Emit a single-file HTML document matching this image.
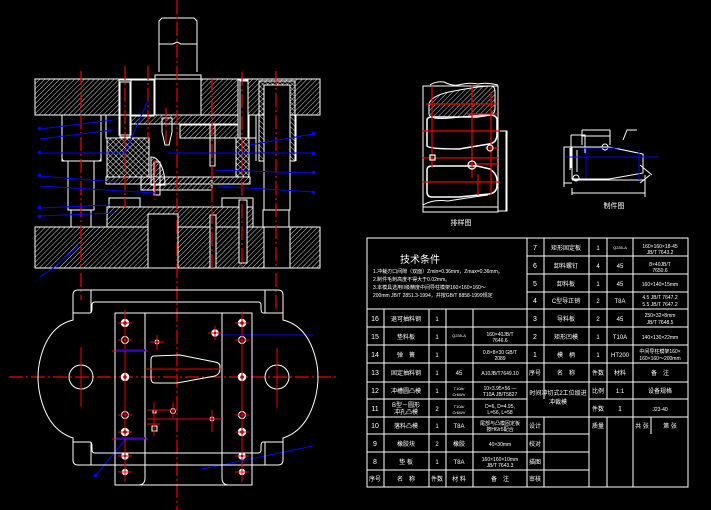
<!DOCTYPE html>
<html><head><meta charset="utf-8"><style>
html,body{margin:0;padding:0;background:#000;}
svg{display:block}
text{font-family:"Liberation Sans","Noto Sans CJK SC",sans-serif;fill:#fff;}
</style></head><body>
<svg width="711" height="510" viewBox="0 0 711 510" xmlns="http://www.w3.org/2000/svg">
<defs>
<pattern id="h" width="3.5" height="3.5" patternUnits="userSpaceOnUse" patternTransform="rotate(45)"><line x1="0" y1="0" x2="0" y2="3.5" stroke="#fff" stroke-width="0.8"/></pattern>
<pattern id="hr" width="3.5" height="3.5" patternUnits="userSpaceOnUse" patternTransform="rotate(-45)"><line x1="0" y1="0" x2="0" y2="3.5" stroke="#fff" stroke-width="0.8"/></pattern>
<pattern id="x" width="4" height="4" patternUnits="userSpaceOnUse" patternTransform="rotate(45)"><path d="M0 0V4M0 0H4" stroke="#fff" stroke-width="0.9"/></pattern>
</defs>
<rect width="711" height="510" fill="#000"/>
<g fill="none" stroke="#fff" stroke-width="1">
<!-- shank -->
<path d="M159 72V21l3-3h32l3 3v51"/>
<path d="M159 44l14 0 4-2 4 2h16"/>
<rect x="155" y="75" width="46" height="28"/>
<rect x="156" y="103" width="44" height="6"/>
<!-- top plate -->
<rect x="35" y="79" width="285" height="36" fill="url(#h)"/>
<rect x="119" y="80" width="12" height="55" fill="#000"/>
<rect x="131" y="80" width="23" height="36" fill="#000"/>
<rect x="155" y="79" width="46" height="36" fill="#000"/>
<rect x="259" y="81" width="36" height="80" fill="url(#hr)"/>
<rect x="264" y="85" width="26" height="125" fill="#000"/>
<rect x="238" y="80" width="10" height="58" fill="#000"/>
<!-- punch plate & upper -->
<rect x="130" y="115" width="108" height="9" fill="url(#h)"/>
<rect x="180" y="125" width="58" height="13" fill="url(#h)"/>
<rect x="106" y="115" width="24" height="23"/>
<rect x="249" y="115" width="7" height="23"/>
<!-- rubber -->
<rect x="107" y="138" width="42" height="39" fill="url(#x)"/>
<rect x="236" y="138" width="13" height="39" fill="url(#x)"/>
<path d="M151 157c8 0 14 12 14 28h-14z" fill="url(#h)"/>
<rect x="106" y="177" width="144" height="7" fill="url(#h)"/>
<rect x="141" y="177" width="71" height="13" fill="url(#h)"/>
<rect x="109" y="198" width="31" height="9"/>
<rect x="222" y="198" width="31" height="9"/>
<rect x="107" y="207" width="146" height="20" fill="url(#h)"/>
<rect x="148" y="214" width="30" height="13" fill="#000"/>
<!-- guide pillars left -->
<path d="M62 115v46h39v-46"/><path d="M62 158q0 3 3 3h33q3 0 3-3"/>
<path d="M68 161v49h26v-49"/><path d="M71 210v17h20v-17"/>
<rect x="120" y="82" width="10" height="55"/>
<rect x="240" y="81" width="8" height="57"/>
<path d="M256 115v46M296 115v46"/><path d="M263 227v-17h26v17"/>
<!-- bottom plate -->
<rect x="35" y="227" width="285" height="41" fill="url(#h)"/>
<rect x="148" y="214" width="30" height="54" fill="#000"/>
<rect x="264" y="227" width="26" height="41" fill="#000"/>
<rect x="239" y="200" width="8" height="63" fill="#000"/>
<rect x="210" y="215" width="6" height="53" fill="#000"/>
<!-- punch -->
<path d="M162 118h10v14l-3 13h-4l-3-13z"/>
<rect x="154" y="162" width="6" height="33"/>
<rect x="210" y="124" width="5" height="42"/>
</g>
<!-- red centerlines main -->
<g stroke="#e00" stroke-width="1.2" stroke-dasharray="14 3 2 3" fill="none">
<path d="M177 0V510"/>
<path d="M81 71V268"/><path d="M125 66V208"/><path d="M148 66V140"/>
<path d="M212 78V268"/><path d="M242 72V268"/><path d="M276 71V268"/>
<path d="M166 108V145"/><path d="M155 160V200"/>
<path d="M9 377H338"/>
<path d="M81 273V300"/><path d="M276 273V310"/>
</g>
<!-- blue leaders -->
<g stroke="#00f" stroke-width="1" fill="none">
<path d="M40 129L113 120"/><path d="M40 139L113 130"/><path d="M40 153H125L148 100"/>
<path d="M40 176L115 182"/><path d="M40 186L155 193"/><path d="M40 208L110 205"/><path d="M40 216L115 213"/>
<path d="M313 134L250 145"/><path d="M313 153H168"/><path d="M313 173L213 170"/><path d="M313 192L218 186"/>
<path d="M53 268L78 246"/><path d="M40 277L53 268"/>
<path d="M215 335H313"/><path d="M202 469L313 446"/><path d="M96 475L125 440"/>
<path d="M112 351H145M112 439H145"/>
</g>
<g fill="#00f" font-size="4"><rect x="38" y="127" width="3" height="3"/><rect x="38" y="151" width="3" height="3"/><rect x="38" y="174" width="3" height="3"/><rect x="38" y="206" width="3" height="3"/><rect x="38" y="215" width="3" height="3"/><rect x="312" y="132" width="3" height="3"/><rect x="312" y="152" width="3" height="3"/><rect x="312" y="171" width="3" height="3"/><rect x="312" y="191" width="3" height="3"/><rect x="94" y="474" width="3" height="3"/></g>
<!-- plan view -->
<g fill="none" stroke="#fff" stroke-width="1">
<path d="M78 290H278q5 0 5 5v25q25 6 33 40q4 17 0 35q-8 35-33 43v22q0 5-5 5H78q-5 0-5-5v-22q-25-8-33-43q-4-18 0-35q8-34 33-40v-25q0-5 5-5z"/>
<path d="M73 313H90q2 0 2-5h0v-3q0-3 3-3h163q3 0 3 3v3q0 5 2 5h20"/>
<path d="M73 442h17q2 0 2 5v3q0 3 3 3h163q3 0 3-3v-3q0-5 2-5h20"/>
<path d="M91 290v23M265 290v23M91 442v23M265 442v23"/>
<rect x="115" y="313" width="137" height="172"/>
<path d="M145 313V478q0 7-7 7M222 313V478q0 7 7 7"/>
<circle cx="81" cy="377" r="12"/><circle cx="277" cy="377" r="12"/>
<path d="M154 356q-3 0-3 4v18q0 5 4 5h22l38-7q5-2 5-7v-3q0-3-5-4l-35-7z"/>
<g stroke-width="2.5"><circle cx="125" cy="323" r="3"/><circle cx="125" cy="377" r="3"/><circle cx="125" cy="432" r="3"/><circle cx="242" cy="323" r="3"/><circle cx="242" cy="377" r="3"/><circle cx="242" cy="432" r="3"/><circle cx="125" cy="456" r="2.5"/><circle cx="125" cy="472" r="2"/><circle cx="242" cy="456" r="2.5"/><circle cx="242" cy="472" r="2"/><circle cx="215" cy="333" r="2.5"/></g>
<circle cx="125" cy="340" r="3.5"/><circle cx="125" cy="415" r="3.5"/><circle cx="242" cy="340" r="3.5"/><circle cx="242" cy="415" r="3.5"/>
<circle cx="157" cy="342" r="2"/><circle cx="173" cy="411" r="2.5"/><circle cx="212" cy="419" r="2"/><rect x="152" y="426" width="5" height="5"/><rect x="153" y="410" width="3" height="3"/>
</g>
<g stroke="#e00" stroke-width="1" fill="none">
<path d="M125 310V482M242 312V482M81 347V407M277 348V408M145 369H222M147 410H178M147 424H160M147 419H222M212 410V432M154 402V436M173 402V418M150 342H164M157 335V350M208 333H222M215 326V340"/>
<path d="M118 323h14M118 340h14M118 415h14M118 432h14M118 456h14M118 472h14M235 323h14M235 340h14M235 415h14M235 432h14M235 456h14M235 472h14"/>
<path d="M112 351H148M112 439H148"/>
</g>
<g stroke="#00f" stroke-width="1.5"><path d="M116 350H145M116 438H145"/></g>
<!-- strip layout -->
<g fill="none" stroke="#fff" stroke-width="1">
<rect x="423" y="86" width="75" height="126"/>
<path d="M430 85q6-4 14-3q8 4 14 3q12-3 20-1q8-2 20 1"/>
<path d="M429 104q2-8 20-12q30-6 42-6q4 0 4 6v16q0 6-4 6l-40 4q-22 2-22-4z" fill="url(#h)"/>
<path d="M427 120q0-3 5-3h45l13-2q6 0 7 4v15q0 9-8 10l-30 5q-30 0-32-3z" stroke-width="1.5"/>
<path d="M427 170q0-4 5-4h45l13 3q6 4 7 10v6q0 8-8 9l-30 3h-27q-5 0-5-5z" stroke-width="1.5"/>
<path d="M423 205q10-6 25-4q25-4 40-6"/>
<path d="M498 131h9v80h-9M506 131v80"/>
<path d="M423 207h75"/>
</g>
<g stroke="#e00" stroke-width="1.2" fill="none"><path d="M432 86V168M472 85V178M491 92V195M422 131H500M422 158H498M422 182H500M426 104H497M467 114H497M485 148H498M469 164H498M478 174V195"/>
<circle cx="472" cy="165" r="4" stroke="#fff"/><circle cx="490" cy="148" r="3" stroke="#fff"/><rect x="430" y="155" width="5" height="5" stroke="#fff"/></g>
<text x="461" y="225" font-size="7" text-anchor="middle" fill="#ccc">排样图</text>
<!-- part drawing -->
<g fill="none" stroke="#fff" stroke-width="1">
<path d="M572 147h37l34 7v19l-34 6h-37z"/>
<path d="M582 130v15M610 130v15M582 130h28M582 136h28"/>
<path d="M571 135h14v18M571 135v33"/>
<path d="M572 147h-8v40M572 183h-8M572 180h73M572 188v7M645 175v22M572 193h73"/>
<path d="M570 170v-22M577 172v-22"/>
<circle cx="605" cy="147" r="3"/><circle cx="576" cy="178" r="3"/>
<path d="M623 140l4-10h10"/><path d="M640 183l10-8M640 165l12 10"/>
</g>
<g stroke="#00f" stroke-width="1" fill="none"><path d="M566 157H658M586 148V178M639 150V180M581 148h40"/></g>
<text x="614" y="208" font-size="7" text-anchor="middle" fill="#ccc">制件图</text>
<!-- table -->
<g fill="none" stroke="#fff" stroke-width="1">
<rect x="367" y="238" width="321" height="249"/>
<path d="M527 238V487M544 238V399M544 417V487M589 238V487M607 238V399M607 417V487M633 238V487M651 417V434"/>
<path d="M527 256H688M527 274H688M527 292H688M367 309H688M367 327H688M367 345H688M367 363H688M367 382H688M367 399H527M589 399H688M367 417H688M367 434H589M367 452H589M367 470H589"/>
<path d="M384 309V487M429 309V487M446 309V487M473 309V487"/>
</g>
<g font-size="6" text-anchor="middle">
<text x="420" y="263" font-size="10">技术条件</text>
<text x="373" y="273" text-anchor="start" font-size="5">1.冲裁刃口间隙（双面）Zmin=0.36mm，Zmax=0.36mm。</text>
<text x="373" y="281" text-anchor="start" font-size="5">2.制件毛刺高度不得大于0.02mm。</text>
<text x="373" y="289" text-anchor="start" font-size="5">3.本模具选用II级精度中间导柱模架160×160×160～</text>
<text x="373" y="297" text-anchor="start" font-size="5">200mm JB/T 2851.3-1994，并按GB/T 8858-1999规定</text>
<text x="535" y="250" font-size="7">7</text><text x="566" y="250">矩形固定板</text><text x="598" y="250">1</text><text x="620" y="249" font-size="4">Q235-A</text><text x="660" y="248" font-size="5">160×160×18-45</text><text x="660" y="254" font-size="5">JB/T 7643.2</text>
<text x="535" y="268" font-size="7">6</text><text x="566" y="268">卸料螺钉</text><text x="598" y="268">4</text><text x="620" y="268">45</text><text x="660" y="266" font-size="5">8×40JB/T</text><text x="660" y="272" font-size="5">7650.6</text>
<text x="535" y="286" font-size="7">5</text><text x="566" y="286">卸料板</text><text x="598" y="286">1</text><text x="620" y="286">45</text><text x="660" y="286" font-size="5">160×140×15mm</text>
<text x="535" y="303" font-size="7">4</text><text x="566" y="303">C型导正销</text><text x="598" y="303">2</text><text x="620" y="303">T8A</text><text x="660" y="299" font-size="5">4.5 JB/T 7647.2</text><text x="660" y="306" font-size="5">5.5 JB/T 7647.2</text>
<text x="535" y="321" font-size="7">3</text><text x="566" y="321">导料板</text><text x="598" y="321">2</text><text x="620" y="321">45</text><text x="660" y="317" font-size="5">250×32×8mm</text><text x="660" y="324" font-size="5">JB/T 7648.5</text>
<text x="535" y="339" font-size="7">2</text><text x="566" y="339">矩形凹模</text><text x="598" y="339">1</text><text x="620" y="339">T10A</text><text x="660" y="339" font-size="5">140×130×22mm</text>
<text x="535" y="357" font-size="7">1</text><text x="566" y="357">模　柄</text><text x="598" y="357">1</text><text x="620" y="357" font-size="6">HT200</text><text x="660" y="353" font-size="5">中间导柱模架160×</text><text x="660" y="360" font-size="5">160×160～200mm</text>
<text x="535" y="375">序号</text><text x="566" y="375">名　称</text><text x="598" y="375">件数</text><text x="620" y="375">材料</text><text x="660" y="375">备　注</text>
<text x="558" y="395" font-size="6">时间冲切式2工位级进</text><text x="558" y="404">冲裁模</text>
<text x="598" y="393">比例</text><text x="620" y="393">1:1</text><text x="660" y="393">设备规格</text>
<text x="598" y="411">件数</text><text x="620" y="411" font-size="7">1</text><text x="660" y="411" font-size="5">J23-40</text>
<text x="535" y="428">设计</text><text x="598" y="428">质量</text><text x="642" y="428">共 张</text><text x="670" y="428">第 张</text>
<text x="535" y="446">校对</text><text x="535" y="464">描图</text><text x="535" y="481">审核</text>
<text x="375" y="321" font-size="7">16</text><text x="406" y="321">退可抽料钢</text><text x="437" y="321">1</text>
<text x="375" y="339" font-size="7">15</text><text x="406" y="339">垫料板</text><text x="437" y="339">1</text><text x="459" y="337" font-size="4">Q235-A</text><text x="500" y="336" font-size="5">160×40JB/T</text><text x="500" y="342" font-size="5">7646.6</text>
<text x="375" y="357" font-size="7">14</text><text x="406" y="357">弹　簧</text><text x="437" y="357">1</text><text x="500" y="354" font-size="5">0.8×8×30 GB/T</text><text x="500" y="360" font-size="5">2089</text>
<text x="375" y="375" font-size="7">13</text><text x="406" y="375">固定抽料钢</text><text x="437" y="375">1</text><text x="459" y="375">45</text><text x="500" y="375" font-size="5">A10JB/T7649.10</text>
<text x="375" y="393" font-size="7">12</text><text x="406" y="393">冲槽圆凸模</text><text x="437" y="393">1</text><text x="459" y="390" font-size="4">T10A/</text><text x="459" y="396" font-size="4">Cr6WV</text><text x="500" y="390" font-size="5">10×3.95×56 —</text><text x="500" y="396" font-size="5">T10A JB/T5827</text>
<text x="375" y="411" font-size="7">11</text><text x="406" y="407">B型－圆形</text><text x="406" y="414">冲孔凸模</text><text x="437" y="411">2</text><text x="459" y="408" font-size="4">T10A/</text><text x="459" y="414" font-size="4">Cr6WV</text><text x="500" y="408" font-size="5">D=6, D=4.95,</text><text x="500" y="414" font-size="5">L=56, L=58</text>
<text x="375" y="428" font-size="7">10</text><text x="406" y="428">落料凸模</text><text x="437" y="428">1</text><text x="459" y="428">T8A</text><text x="500" y="425" font-size="5">尾部与凸模固定板</text><text x="500" y="431" font-size="5">按H6/r5配合</text>
<text x="375" y="446" font-size="7">9</text><text x="406" y="446">橡胶块</text><text x="437" y="446">2</text><text x="459" y="446">橡胶</text><text x="500" y="446" font-size="5">40×30mm</text>
<text x="375" y="464" font-size="7">8</text><text x="406" y="464">垫 板</text><text x="437" y="464">1</text><text x="459" y="464">T8A</text><text x="500" y="461" font-size="5">160×160×10mm</text><text x="500" y="467" font-size="5">JB/T 7643.3</text>
<text x="375" y="481">序号</text><text x="406" y="481">名　称</text><text x="437" y="481">件数</text><text x="459" y="481">材 料</text><text x="500" y="481">备　注</text>
</g>
</svg>
</body></html>
